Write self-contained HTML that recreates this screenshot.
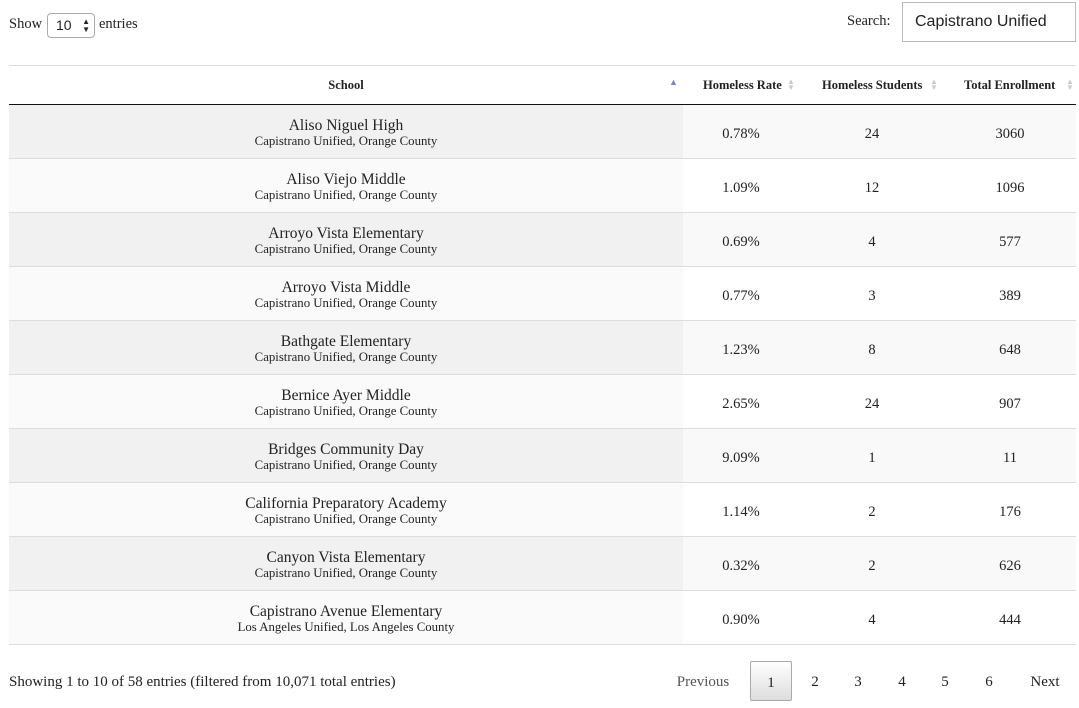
<!DOCTYPE html>
<html><head><meta charset="utf-8"><style>
*{margin:0;padding:0;box-sizing:border-box}
body{width:1079px;height:708px;background:#fff;font-family:"Liberation Serif",serif;color:#222;position:relative;overflow:hidden}
.abs{position:absolute}
.row{position:absolute;left:9px;width:1067px;height:54px;border-bottom:1px solid #ddd}
.c{position:absolute;top:0;height:53px;text-align:center}
.nm{font-size:15.5px;line-height:17px;padding-top:12px}
.sb{font-size:12.8px;line-height:15px}
.v{font-size:14.5px;line-height:58px}
.hd{position:absolute;top:66px;height:38px;line-height:38px;font-size:12.5px;font-weight:bold;text-align:center}
.ar{position:absolute;font-size:8px;color:#ccc;line-height:6px}
.pg{position:absolute;top:661px;height:40px;line-height:42px;font-size:15px;text-align:center}
</style></head><body>
<div class="abs" style="left:9px;top:16px;font-size:14.5px">Show</div>
<div class="abs" style="left:47px;top:13px;width:48px;height:25px;border:1px solid #aaa;border-radius:4px;font-family:'Liberation Sans',sans-serif;font-size:14px;line-height:23px;padding-left:8px">10<span style="position:absolute;right:4px;top:0;font-size:8px;line-height:8px;padding-top:4px">▲<br>▼</span></div>
<div class="abs" style="left:99px;top:16px;font-size:14.5px">entries</div>
<div class="abs" style="left:847px;top:13px;font-size:14.5px">Search:</div>
<div class="abs" style="left:902px;top:2px;width:174px;height:40px;border:1px solid #bbb;font-family:'Liberation Sans',sans-serif;font-size:16px;line-height:38px;padding-left:12px">Capistrano Unified</div>

<div class="abs" style="left:9px;top:65px;width:1067px;height:1px;background:#ddd"></div>
<div class="abs" style="left:9px;top:104px;width:1067px;height:1px;background:#111"></div>
<div class="hd" style="left:9px;width:674px">School</div>
<div class="ar" style="left:669px;top:79px;color:#7b7fd9;font-size:9px">▲</div>
<div class="hd" style="left:703px;width:100px;text-align:left">Homeless Rate</div>
<div class="ar" style="left:787px;top:79px">▲<br>▼</div>
<div class="hd" style="left:822px;width:120px;text-align:left">Homeless Students</div>
<div class="ar" style="left:930px;top:79px">▲<br>▼</div>
<div class="hd" style="left:964px;width:100px;text-align:left">Total Enrollment</div>
<div class="ar" style="left:1066px;top:79px">▲<br>▼</div>

<div id="rows"></div>
<script>
var d=[["Aliso Niguel High","Capistrano Unified, Orange County","0.78%","24","3060"],
["Aliso Viejo Middle","Capistrano Unified, Orange County","1.09%","12","1096"],
["Arroyo Vista Elementary","Capistrano Unified, Orange County","0.69%","4","577"],
["Arroyo Vista Middle","Capistrano Unified, Orange County","0.77%","3","389"],
["Bathgate Elementary","Capistrano Unified, Orange County","1.23%","8","648"],
["Bernice Ayer Middle","Capistrano Unified, Orange County","2.65%","24","907"],
["Bridges Community Day","Capistrano Unified, Orange County","9.09%","1","11"],
["California Preparatory Academy","Capistrano Unified, Orange County","1.14%","2","176"],
["Canyon Vista Elementary","Capistrano Unified, Orange County","0.32%","2","626"],
["Capistrano Avenue Elementary","Los Angeles Unified, Los Angeles County","0.90%","4","444"]];
var h="";
d.forEach(function(r,i){var o=i%2==0;
h+='<div class="row" style="top:'+(105+i*54)+'px;background:'+(o?'#f9f9f9':'#fff')+'">'+
'<div class="c" style="left:0;width:674px;background:'+(o?'#f1f1f1':'#fafafa')+'"><div class="nm">'+r[0]+'</div><div class="sb">'+r[1]+'</div></div>'+
'<div class="c v" style="left:674px;width:116px">'+r[2]+'</div>'+
'<div class="c v" style="left:800px;width:126px">'+r[3]+'</div>'+
'<div class="c v" style="left:940px;width:122px">'+r[4]+'</div></div>';});
document.getElementById("rows").innerHTML=h;
</script>
<div class="abs" style="left:9px;top:674px;font-size:15px">Showing 1 to 10 of 58 entries (filtered from 10,071 total entries)</div>
<div class="pg" style="left:668px;width:70px;color:#555">Previous</div>
<div class="pg" style="left:750px;width:42px;border:1px solid #aaa;border-radius:2px;background:linear-gradient(#fff,#ddd)">1</div>
<div class="pg" style="left:794px;width:42px">2</div>
<div class="pg" style="left:837px;width:42px">3</div>
<div class="pg" style="left:881px;width:42px">4</div>
<div class="pg" style="left:924px;width:42px">5</div>
<div class="pg" style="left:968px;width:42px">6</div>
<div class="pg" style="left:1020px;width:50px">Next</div>
</body></html>
